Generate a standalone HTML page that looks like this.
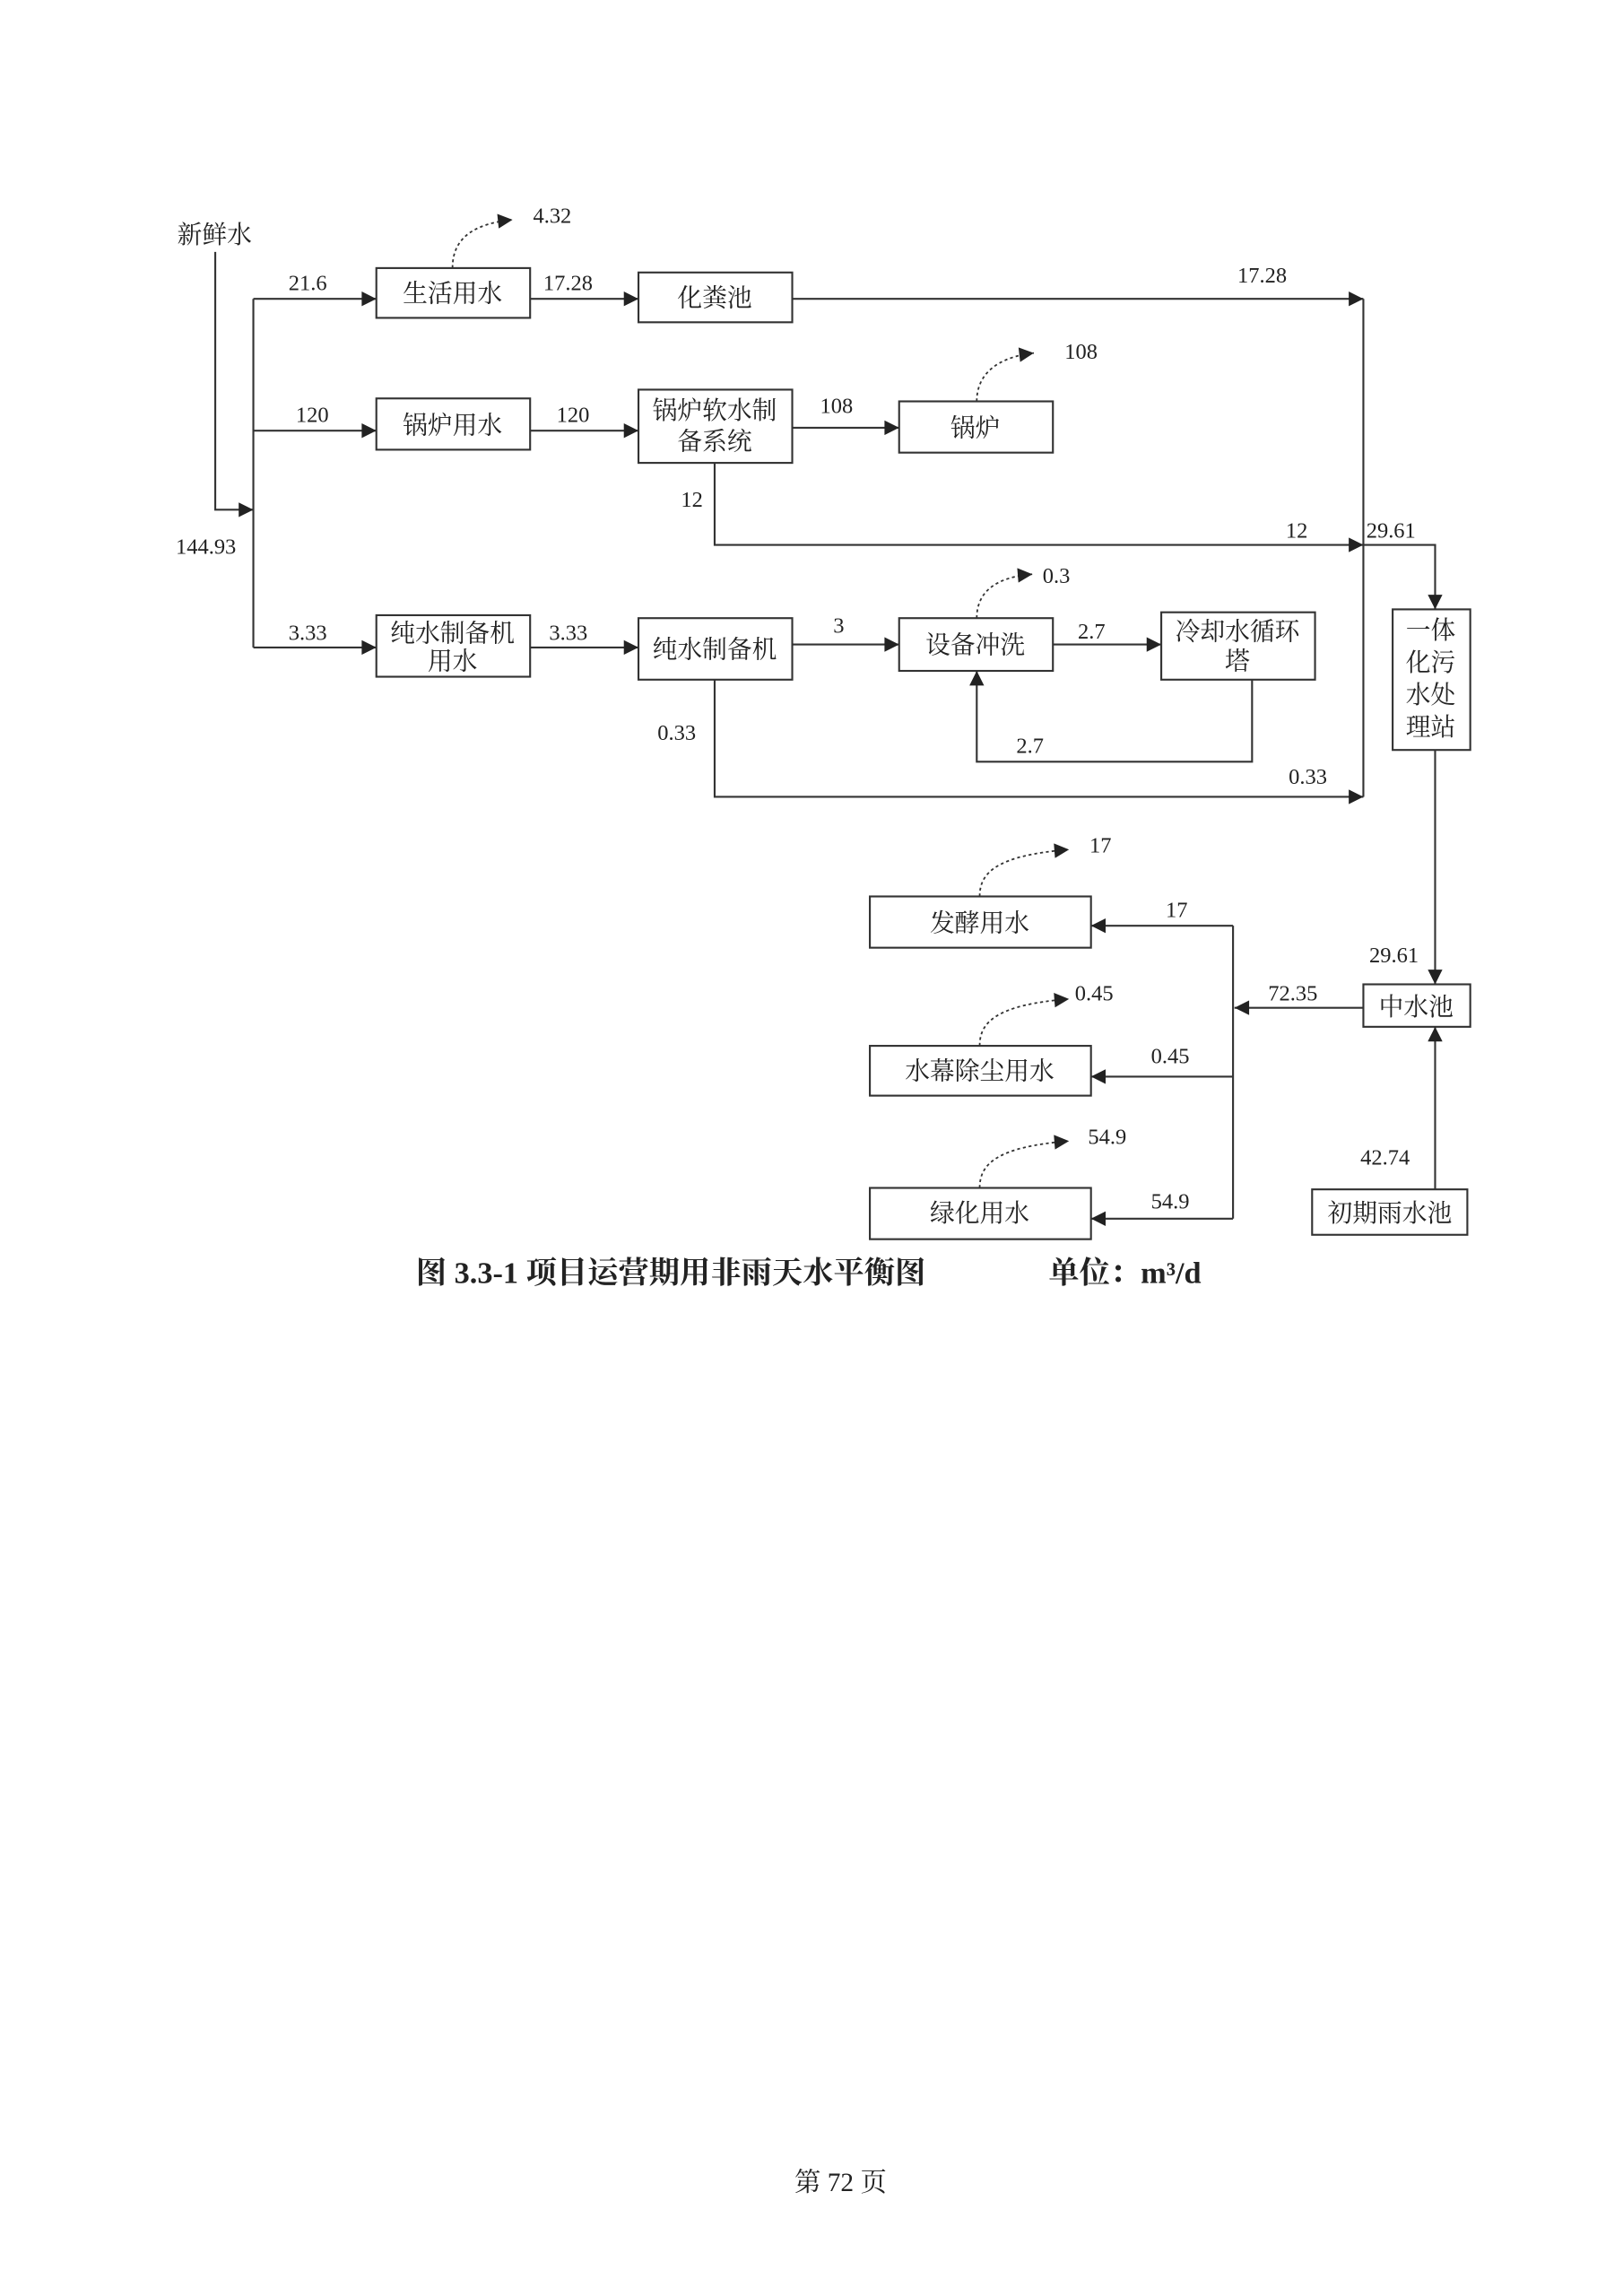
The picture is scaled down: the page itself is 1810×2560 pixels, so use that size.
<!DOCTYPE html>
<html><head><meta charset="utf-8"><style>
html,body{margin:0;padding:0;background:#fff;}
svg{display:block;}
text{font-family:"Liberation Serif","Noto Serif CJK SC",serif;fill:#222;}
.n{font-size:15px;}
.c{font-size:17px;text-anchor:middle;}
</style></head><body>
<svg width="1810" height="2560" viewBox="0 0 1108.3 1567.5" xmlns="http://www.w3.org/2000/svg">
<defs>
<marker id="a" viewBox="0 0 10 10" refX="10" refY="5" markerWidth="14" markerHeight="10" markerUnits="userSpaceOnUse" orient="auto"><path d="M0,0L10,5L0,10z" fill="#222"/></marker>
</defs>
<g stroke="#333" stroke-width="1.3" fill="none">
<polyline points="147,172 147,348 173,348" marker-end="url(#a)"/>
<line x1="173" y1="204" x2="173" y2="442"/>
<line x1="173" y1="204" x2="257" y2="204" marker-end="url(#a)"/>
<rect x="257" y="183" width="105" height="34"/>
<line x1="362" y1="204" x2="436" y2="204" marker-end="url(#a)"/>
<rect x="436" y="186" width="105" height="34"/>
<line x1="541" y1="204" x2="931" y2="204" marker-end="url(#a)"/>
<line x1="173" y1="294" x2="257" y2="294" marker-end="url(#a)"/>
<rect x="257" y="272" width="105" height="35"/>
<line x1="362" y1="294" x2="436" y2="294" marker-end="url(#a)"/>
<rect x="436" y="266" width="105" height="50"/>
<line x1="541" y1="292" x2="614" y2="292" marker-end="url(#a)"/>
<rect x="614" y="274" width="105" height="35"/>
<polyline points="488,316 488,372 931,372" marker-end="url(#a)"/>
<line x1="931" y1="204" x2="931" y2="544"/>
<polyline points="931,372 980,372 980,416" marker-end="url(#a)"/>
<rect x="951" y="416" width="53" height="96"/>
<line x1="173" y1="442" x2="257" y2="442" marker-end="url(#a)"/>
<rect x="257" y="420" width="105" height="42"/>
<line x1="362" y1="442" x2="436" y2="442" marker-end="url(#a)"/>
<rect x="436" y="422" width="105" height="42"/>
<line x1="541" y1="440" x2="614" y2="440" marker-end="url(#a)"/>
<rect x="614" y="422" width="105" height="36"/>
<line x1="719" y1="440" x2="793" y2="440" marker-end="url(#a)"/>
<rect x="793" y="418" width="105" height="46"/>
<polyline points="855,464 855,520 667,520 667,458" marker-end="url(#a)"/>
<polyline points="488,464 488,544 931,544" marker-end="url(#a)"/>
<line x1="980" y1="512" x2="980" y2="672" marker-end="url(#a)"/>
<rect x="931" y="672" width="73" height="29"/>
<line x1="931" y1="688" x2="843" y2="688" marker-end="url(#a)"/>
<line x1="842" y1="632" x2="842" y2="832"/>
<line x1="842" y1="632" x2="745" y2="632" marker-end="url(#a)"/>
<line x1="842" y1="735" x2="745" y2="735" marker-end="url(#a)"/>
<line x1="842" y1="832" x2="745" y2="832" marker-end="url(#a)"/>
<rect x="594" y="612" width="151" height="35"/>
<rect x="594" y="714" width="151" height="34"/>
<rect x="594" y="811" width="151" height="35"/>
<rect x="896" y="812" width="106" height="31"/>
<line x1="980" y1="812" x2="980" y2="701" marker-end="url(#a)"/>
</g>
<g stroke="#333" stroke-width="1.1" fill="none" stroke-dasharray="2,2">
<path d="M309,183 C309,165 320,153 350,150" marker-end="url(#a)"/>
<path d="M667,274 C667,256 680,244 706,241" marker-end="url(#a)"/>
<path d="M667,422 C667,404 680,394 705,392" marker-end="url(#a)"/>
<path d="M669,612 C669,596 680,584 730,580" marker-end="url(#a)"/>
<path d="M669,714 C669,698 680,686 730,682" marker-end="url(#a)"/>
<path d="M669,811 C669,795 680,783 730,779" marker-end="url(#a)"/>
</g>
<g class="n">
<text x="121" y="166" style="font-size:17px">新鲜水</text>
<text x="120" y="378">144.93</text>
<text x="197" y="198">21.6</text>
<text x="371" y="198">17.28</text>
<text x="845" y="193">17.28</text>
<text x="364" y="152">4.32</text>
<text x="202" y="288">120</text>
<text x="380" y="288">120</text>
<text x="560" y="282">108</text>
<text x="727" y="245">108</text>
<text x="465" y="346">12</text>
<text x="878" y="367">12</text>
<text x="933" y="367">29.61</text>
<text x="197" y="437">3.33</text>
<text x="375" y="437">3.33</text>
<text x="569" y="432">3</text>
<text x="712" y="398">0.3</text>
<text x="736" y="436">2.7</text>
<text x="694" y="514">2.7</text>
<text x="449" y="505">0.33</text>
<text x="880" y="535">0.33</text>
<text x="935" y="657">29.61</text>
<text x="866" y="683">72.35</text>
<text x="796" y="626">17</text>
<text x="786" y="726">0.45</text>
<text x="786" y="825">54.9</text>
<text x="744" y="582">17</text>
<text x="734" y="683">0.45</text>
<text x="743" y="781">54.9</text>
<text x="929" y="795">42.74</text>
</g>
<g class="c">
<text x="309" y="206">生活用水</text>
<text x="488" y="209">化粪池</text>
<text x="309" y="296">锅炉用水</text>
<text x="488" y="286">锅炉软水制</text>
<text x="488" y="307">备系统</text>
<text x="666" y="298">锅炉</text>
<text x="309" y="438">纯水制备机</text>
<text x="309" y="457">用水</text>
<text x="488" y="449">纯水制备机</text>
<text x="666" y="446">设备冲洗</text>
<text x="845" y="437">冷却水循环</text>
<text x="845" y="457">塔</text>
<text x="977" y="436">一体</text>
<text x="977" y="458">化污</text>
<text x="977" y="480">水处</text>
<text x="977" y="502">理站</text>
<text x="967" y="693">中水池</text>
<text x="669" y="636">发酵用水</text>
<text x="669" y="737">水幕除尘用水</text>
<text x="669" y="834">绿化用水</text>
<text x="949" y="834">初期雨水池</text>
</g>
<text x="284" y="876" style="font-size:21px;font-weight:bold">图 3.3-1  项目运营期用非雨天水平衡图</text>
<text x="716" y="876" style="font-size:21px;font-weight:bold">单位：m³/d</text>
<text x="574" y="1496" style="font-size:18px;text-anchor:middle">第 72 页</text>
</svg>
</body></html>
